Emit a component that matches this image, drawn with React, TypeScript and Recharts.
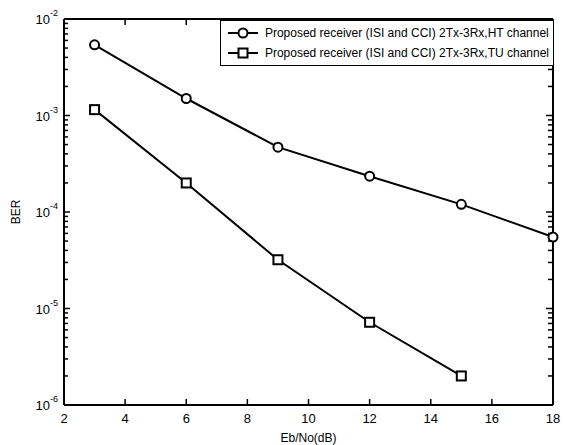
import React from "react";
import {
  LineChart,
  Line,
  XAxis,
  YAxis,
  ReferenceLine,
} from "recharts";

const ebNo = [3, 6, 9, 12, 15, 18];
const htBer = [5.4e-3, 1.5e-3, 4.7e-4, 2.35e-4, 1.2e-4, 5.5e-5];
const tuBer = [1.15e-3, 2.0e-4, 3.2e-5, 7.2e-6, 2.0e-6];
const xTicks = [2, 4, 6, 8, 10, 12, 14, 16, 18];
const yMajor = [1e-6, 1e-5, 1e-4, 1e-3, 1e-2];
const seriesNames = [
  "Proposed receiver (ISI and CCI) 2Tx-3Rx,HT channel",
  "Proposed receiver (ISI and CCI) 2Tx-3Rx,TU channel",
];

const htData = ebNo.map((x, i) => ({ x, ber: htBer[i] }));
const tuData = tuBer.map((ber, i) => ({ x: ebNo[i], ber }));

// major decades plus 2..9 minor ticks
const yTicks: number[] = [];
yMajor.forEach((m, i) => {
  yTicks.push(m);
  if (i < yMajor.length - 1) {
    for (let k = 2; k <= 9; k++) yTicks.push(Number((m * k).toPrecision(3)));
  }
});

const FONT = "'Liberation Sans', Arial, sans-serif";
const OFF = 8;

const isMajor = (v: number) => yMajor.some((m) => Math.abs(m - v) / m < 1e-6);

const LeftTick = (props: any) => {
  const { x, y, payload } = props;
  const ax = Number(x) + OFF;
  const major = isMajor(payload.value);
  const exp = Math.round(Math.log10(payload.value));
  return (
    <g>
      <path d={`M${ax},${y}h${major ? 6 : 4}`} stroke="#000" strokeWidth={1.5} fill="none" />
      <path d={`M${ax + 488},${y}h${major ? -6 : -4}`} stroke="#000" strokeWidth={1.5} fill="none" />
      {major && (
        <text x={ax - 6} y={Number(y) + 5} textAnchor="end" fontFamily={FONT} fontSize={13} fill="#000">
          10
          <tspan dy={-8} fontSize={9}>
            {exp}
          </tspan>
        </text>
      )}
    </g>
  );
};

const BottomTick = (props: any) => {
  const { x, y, payload } = props;
  const ay = Number(y) - OFF;
  return (
    <g>
      <path d={`M${x},${ay}v-6`} stroke="#000" strokeWidth={1.5} fill="none" />
      <path d={`M${x},${ay - 386}v6`} stroke="#000" strokeWidth={1.5} fill="none" />
      <text x={x} y={ay + 18} textAnchor="middle" fontFamily={FONT} fontSize={13} fill="#000">
        {payload.value}
      </text>
    </g>
  );
};

const CircleDot = (props: any) => {
  const { cx, cy } = props;
  if (cx == null || cy == null) return null;
  return <circle cx={cx} cy={cy} r={4.5} fill="#fff" stroke="#000" strokeWidth={2} />;
};

const SquareDot = (props: any) => {
  const { cx, cy } = props;
  if (cx == null || cy == null) return null;
  return <rect x={cx - 4.5} y={cy - 4.5} width={9} height={9} fill="#fff" stroke="#000" strokeWidth={2} />;
};

const LegendBox = () => (
  <div
    style={{
      position: "absolute",
      top: 20,
      right: 10,
      border: "1px solid #000",
      background: "#fff",
      padding: "2px 4px 2px 6px",
      fontFamily: FONT,
      fontSize: 12,
      color: "#000",
      lineHeight: "20px",
    }}
  >
    {seriesNames.map((name, i) => (
      <div key={name} style={{ display: "flex", alignItems: "center", whiteSpace: "nowrap" }}>
        <svg width={32} height={12} style={{ marginRight: 6 }}>
          <line x1={1} x2={31} y1={6} y2={6} stroke="#000" strokeWidth={2} />
          {i === 0 ? (
            <circle cx={16} cy={6} r={4.5} fill="#fff" stroke="#000" strokeWidth={2} />
          ) : (
            <rect x={11.5} y={1.5} width={9} height={9} fill="#fff" stroke="#000" strokeWidth={2} />
          )}
        </svg>
        {name}
      </div>
    ))}
  </div>
);

export default function App() {
  return (
    <div style={{ position: "absolute", left: 0, top: 0 }}>
      <LineChart
        width={564}
        height={445}
        margin={{ top: 19, right: 11, bottom: 0, left: 0 }}
      >
        <XAxis
          dataKey="x"
          type="number"
          domain={[2, 18]}
          ticks={xTicks}
          height={40}
          stroke="#000"
          tickLine={false}
          axisLine={{ stroke: "#000", strokeWidth: 2 }}
          tick={<BottomTick />}
          label={{
            value: "Eb/No(dB)",
            position: "insideBottom",
            offset: 3,
            fill: "#000",
            fontSize: 12,
            fontFamily: FONT,
          }}
        />
        <YAxis
          scale="log"
          type="number"
          domain={[1e-6, 1e-2]}
          ticks={yTicks}
          interval={0}
          allowDataOverflow
          width={64}
          stroke="#000"
          tickLine={false}
          axisLine={{ stroke: "#000", strokeWidth: 2 }}
          tick={<LeftTick />}
          label={{
            value: "BER",
            content: (p: any) => {
              const vb = p.viewBox;
              const cx = vb.x + 16;
              const cy = vb.y + vb.height / 2;
              return (
                <text
                  x={cx}
                  y={cy}
                  transform={`rotate(-90 ${cx} ${cy})`}
                  textAnchor="middle"
                  dominantBaseline="central"
                  fontFamily={FONT}
                  fontSize={12}
                  fill="#000"
                >
                  BER
                </text>
              );
            },
          }}
        />
        <ReferenceLine y={yMajor[yMajor.length - 1]} stroke="#000" strokeWidth={2} ifOverflow="visible" />
        <ReferenceLine x={xTicks[xTicks.length - 1]} stroke="#000" strokeWidth={2} ifOverflow="visible" />
        <Line
          data={htData}
          dataKey="ber"
          name={seriesNames[0]}
          stroke="#000"
          strokeWidth={2}
          dot={<CircleDot />}
          isAnimationActive={false}
        />
        <Line
          data={tuData}
          dataKey="ber"
          name={seriesNames[1]}
          stroke="#000"
          strokeWidth={2}
          dot={<SquareDot />}
          isAnimationActive={false}
        />
      </LineChart>
      <LegendBox />
    </div>
  );
}
